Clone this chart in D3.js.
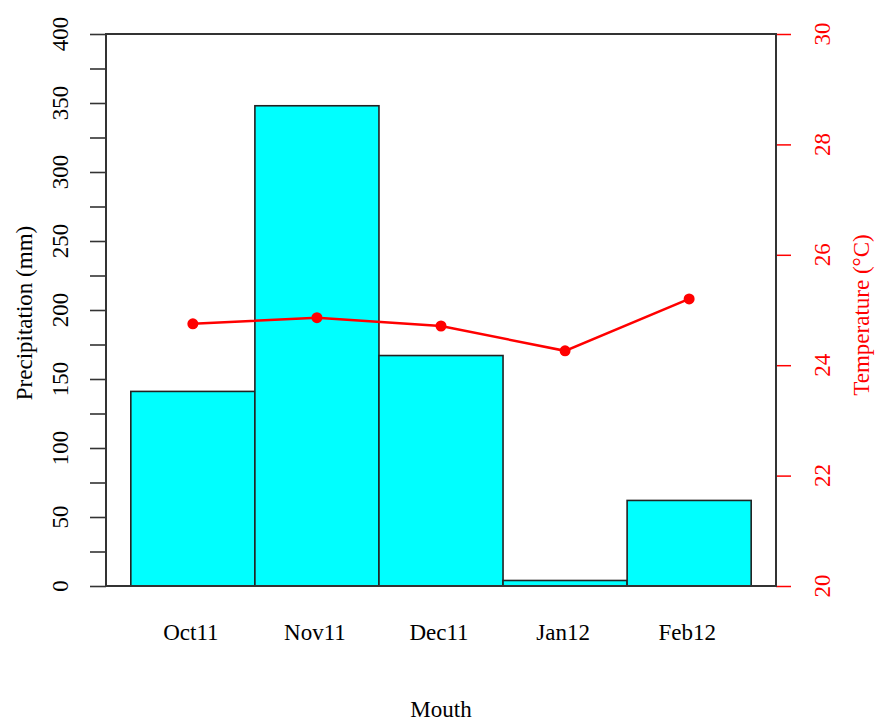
<!DOCTYPE html>
<html><head><meta charset="utf-8">
<script src="https://cdn.jsdelivr.net/npm/d3@7"></script>
<style>body{margin:0;background:#fff}</style>
</head><body>
<svg id="c" width="882" height="723"></svg>
<script>
const months = ["Oct11","Nov11","Dec11","Jan12","Feb12"];
const precipitation = [141, 348, 167, 4, 62];
const temperature = [24.75, 24.86, 24.71, 24.26, 25.2];
const precipTicks = d3.range(0, 401, 25);
const precipLabels = d3.range(0, 401, 50);
const tempTicks = [20, 22, 24, 26, 28, 30];

const svg = d3.select("#c");
const L = 106, R = 776, T = 34, B = 586;
const font = "'Liberation Serif','Times New Roman',serif";
const fs = 23;

const x = d3.scaleLinear().domain([-0.2, 5.2]).range([L, R]);
const y = d3.scaleLinear().domain([0, 400]).range([B, T]);
const y2 = d3.scaleLinear().domain([20, 30]).range([B, T]);

// bars
svg.append("g").selectAll("rect").data(precipitation).join("rect")
  .attr("x", (d, i) => x(i)).attr("width", x(1) - x(0))
  .attr("y", d => y(d)).attr("height", d => B - y(d))
  .attr("fill", "#00FFFF").attr("stroke", "#222").attr("stroke-width", 1.6);

// left axis
const la = svg.append("g").attr("transform", `translate(${L},0)`)
  .call(d3.axisLeft(y).tickValues(precipTicks).tickSize(16).tickFormat(""));
la.select(".domain").remove();
la.selectAll("line").attr("stroke", "#333").attr("stroke-width", 1.6);
svg.append("g").selectAll("text").data(precipLabels).join("text")
  .attr("transform", d => `translate(68,${y(d)}) rotate(-90)`)
  .attr("text-anchor", "middle").attr("font-family", font).attr("font-size", fs)
  .text(d => d);

// right axis
const ra = svg.append("g").attr("transform", `translate(${R},0)`)
  .call(d3.axisRight(y2).tickValues(tempTicks).tickSize(15).tickFormat(""));
ra.select(".domain").remove();
ra.selectAll("line").attr("stroke", "red").attr("stroke-width", 1.5);
svg.append("g").selectAll("text").data(tempTicks).join("text")
  .attr("transform", d => `translate(830,${y2(d)}) rotate(-90)`)
  .attr("text-anchor", "middle").attr("font-family", font).attr("font-size", fs)
  .attr("fill", "red").text(d => d);

// box
svg.append("rect").attr("x", L).attr("y", T).attr("width", R - L).attr("height", B - T)
  .attr("fill", "none").attr("stroke", "#333").attr("stroke-width", 2);

// temperature line
const cx = i => x(i) + (x(1) - x(0)) / 2;
svg.append("path").datum(temperature)
  .attr("d", d3.line().x((d, i) => cx(i)).y(d => y2(d)))
  .attr("fill", "none").attr("stroke", "red").attr("stroke-width", 2.5);
svg.append("g").selectAll("circle").data(temperature).join("circle")
  .attr("cx", (d, i) => cx(i)).attr("cy", d => y2(d)).attr("r", 5.5).attr("fill", "red");

// x labels
svg.append("g").selectAll("text").data(months).join("text")
  .attr("transform", (d, i) => `translate(${cx(i) - 2},640)`)
  .attr("text-anchor", "middle").attr("font-family", font).attr("font-size", fs)
  .text(d => d);

// axis titles
svg.append("text").attr("transform", `translate(${(L + R) / 2},717)`)
  .attr("text-anchor", "middle").attr("font-family", font).attr("font-size", fs).text("Mouth");
svg.append("text").attr("transform", `translate(32,313) rotate(-90)`)
  .attr("text-anchor", "middle").attr("font-family", font).attr("font-size", fs)
  .text("Precipitation (mm)");
svg.append("text").attr("transform", `translate(869,315) rotate(-90)`)
  .attr("text-anchor", "middle").attr("font-family", font).attr("font-size", fs)
  .attr("fill", "red").text("Temperature (°C)");
</script>
</body></html>
